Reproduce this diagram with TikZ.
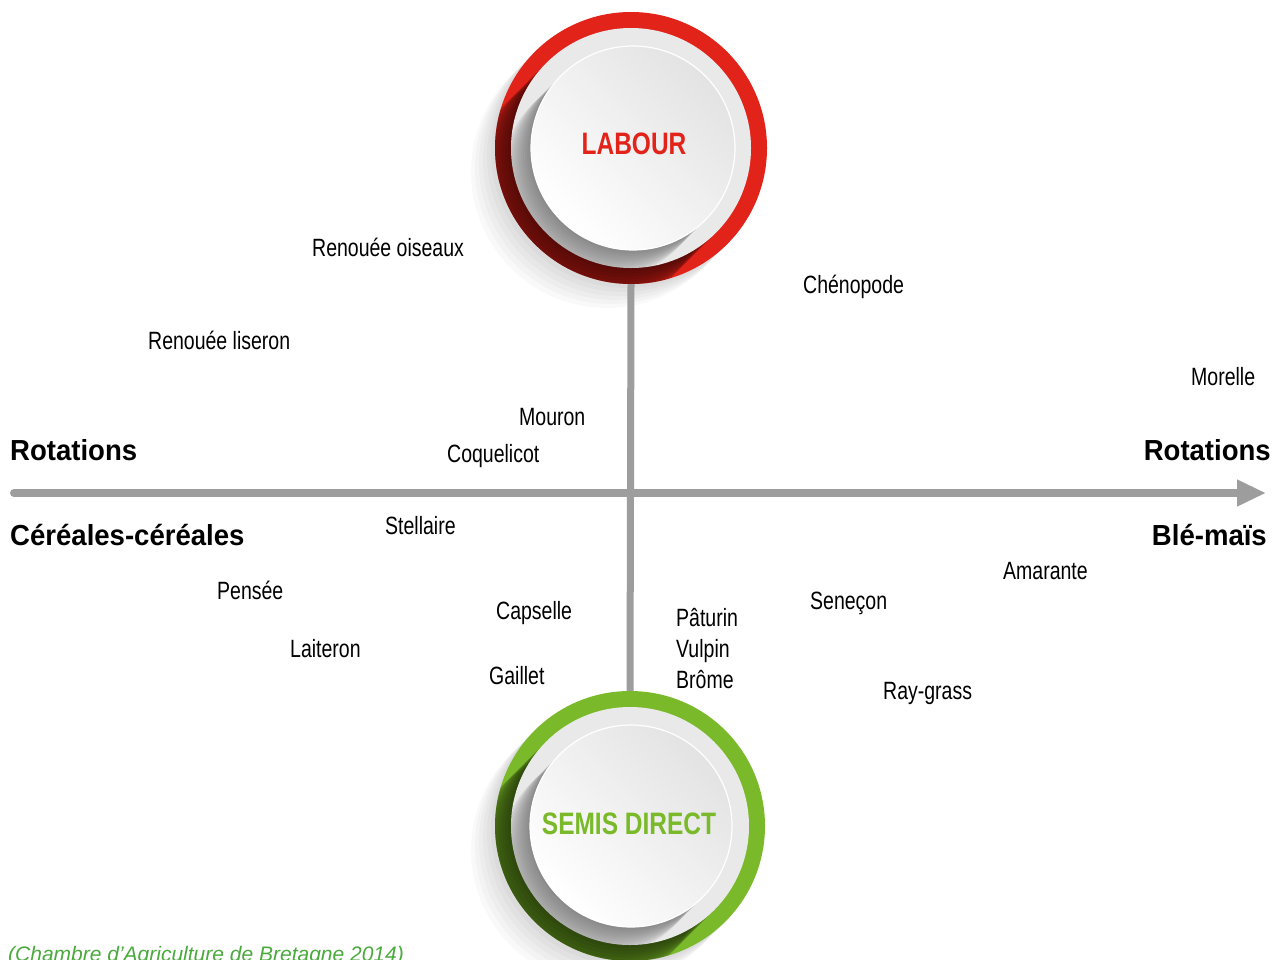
\documentclass[tikz,border=0pt]{standalone}
\usepackage{fontspec}
\setmainfont{Liberation Sans}[FakeStretch=0.78]
\newfontfamily\axefont{Liberation Sans}[FakeStretch=0.95]
\newfontfamily\titrefont{Liberation Sans}[FakeStretch=0.79]
\newfontfamily\sourcefont{Liberation Sans}
\usepackage{tikz}
\usetikzlibrary{arrows.meta}
\usetikzlibrary{positioning}
\definecolor{rougeLab}{HTML}{E2231A}
\definecolor{vertSD}{HTML}{7AB929}
\definecolor{grisAxe}{HTML}{9D9D9D}
\definecolor{vertSource}{HTML}{4AAA3C}
\begin{document}
\begin{tikzpicture}[x=1pt,y=-1pt,
  weed/.style={font=\fontsize{25}{30}\selectfont,inner sep=0pt,text height=18pt,text depth=0pt,anchor=west},
  rotlab/.style={font=\axefont\bfseries\fontsize{29}{35}\selectfont,inner sep=0pt,text height=21pt,text depth=0pt},
  titre/.style={font=\titrefont\bfseries\fontsize{31}{37}\selectfont,inner sep=0pt,text height=22pt,text depth=0pt},
  anneau/.style={circle,inner sep=0pt},
  ombre/.style={black,opacity=0.055},
  ombregris/.style={black,opacity=0.03}]
\useasboundingbox[fill=white] (0,0) rectangle (1275,959);

% bouton labour
\foreach \d in {4,8,...,24}
  \fill[black,opacity=0.025] (631-\d,148+\d) circle (136);
\fill[rougeLab] (631,148) circle (136);
\begin{scope}
\clip (631,148) circle (136);
\foreach \t in {3,6,...,45}
  \fill[ombre] (631-\t,148+\t) circle (120);
\end{scope}
\fill[gray!17] (631,148) circle (120);
\begin{scope}
\clip (631,148) circle (120);
\foreach \t in {2,4,...,30}
  \fill[ombregris] (633-\t,148+\t) circle (102);
\end{scope}
\shade[top color=gray!22,bottom color=white,shading angle=-45] (633,148) circle (102);
\draw[white,line width=1.2pt] (633,148) circle (102);
\node[anneau,minimum size=272pt] (labour) at (631,148) {};
\node[titre,text=rougeLab] (labourtxt) at (634,143) {LABOUR};

% bouton semis direct
\foreach \d in {4,8,...,24}
  \fill[black,opacity=0.025] (630-\d,826+\d) circle (135);
\fill[vertSD] (630,826) circle (135);
\begin{scope}
\clip (630,826) circle (135);
\foreach \t in {3,6,...,45}
  \fill[ombre] (630-\t,826+\t) circle (119);
\end{scope}
\fill[gray!17] (630,826) circle (119);
\begin{scope}
\clip (630,826) circle (119);
\foreach \t in {2,4,...,30}
  \fill[ombregris] (631-\t,826+\t) circle (101);
\end{scope}
\shade[top color=gray!22,bottom color=white,shading angle=-45] (631,826) circle (101);
\draw[white,line width=1.2pt] (631,826) circle (101);
\node[anneau,minimum size=270pt] (semis) at (630,826) {};
\node[titre,text=vertSD] (semistxt) at (629,823) {SEMIS DIRECT};

% axes
\draw[grisAxe,line width=7pt] (labour.south) -- (semis.north);
\coordinate (gauche) at (14,493);
\coordinate (droite) at (1266,493);
\draw[grisAxe,line width=8pt,line cap=round,-{Triangle[length=29pt,width=25pt]}] (gauche) -- (droite);

\node[rotlab,anchor=west] (rotg) at (10,450) {Rotations};
\node[rotlab,anchor=west] (cereales) at (10,535) {Céréales-céréales};
\node[rotlab,anchor=east] (rotd) at (1271,450) {Rotations};
\node[rotlab,anchor=east] (blemais) at (1267,535) {Blé-maïs};

% adventices
\node[weed] (oiseaux) at (312,247) {Renouée oiseaux};
\node[weed] (liseron) at (148,340) {Renouée liseron};
\node[weed] (chenopode) at (803,284) {Chénopode};
\node[weed] (morelle) at (1191,376) {Morelle};
\node[weed] (mouron) at (519,416) {Mouron};
\node[weed] (coquelicot) at (447,453) {Coquelicot};
\node[weed] (stellaire) at (385,525) {Stellaire};
\node[weed] (pensee) at (217,590) {Pensée};
\node[weed] (laiteron) at (290,648) {Laiteron};
\node[weed] (capselle) at (496,610) {Capselle};
\node[weed] (gaillet) at (489,675) {Gaillet};
\node[weed] (paturin) at (676,617) {Pâturin};
\node[weed,below=13pt of paturin.south west,anchor=north west] (vulpin) {Vulpin};
\node[weed,below=13pt of vulpin.south west,anchor=north west] (brome) {Brôme};
\node[weed] (senecon) at (810,600) {Seneçon};
\node[weed] (amarante) at (1003,570) {Amarante};
\node[weed] (raygrass) at (883,690) {Ray-grass};

\node[font=\sourcefont\itshape\fontsize{21}{25}\selectfont,text=vertSource,anchor=base west,inner sep=0pt] (source) at (8,961) {(Chambre d’Agriculture de Bretagne 2014)};
\end{tikzpicture}
\end{document}
